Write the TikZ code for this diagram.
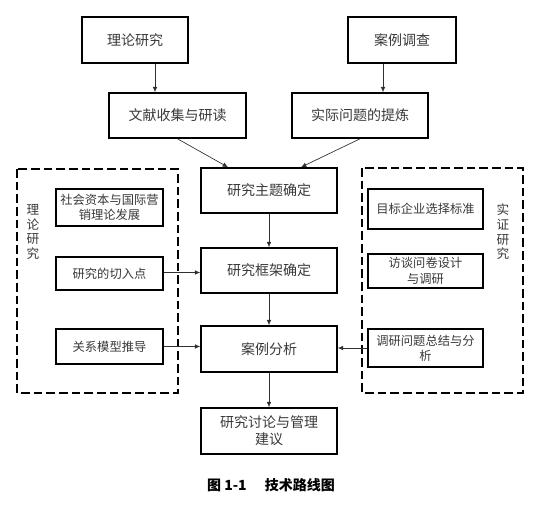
\documentclass[tikz,border=0pt]{standalone}
\usepackage{fontspec}
\newfontfamily\cjk{Noto Sans CJK SC}
\usetikzlibrary{arrows.meta,calc}
\definecolor{txt}{HTML}{383838}
\definecolor{ln}{HTML}{303030}
\tikzset{
  px/.style={x=0.75pt,y=-0.75pt},
  bigbox/.style={draw=black,line width=1.2pt,rectangle,align=center,inner sep=1pt,
     font=\cjk\fontsize{10.5pt}{13pt}\selectfont,text=txt},
  smallbox/.style={draw=black,line width=1.1pt,rectangle,align=center,inner sep=1pt,
     font=\cjk\fontsize{9.2pt}{11.5pt}\selectfont,text=txt},
  dashbox/.style={draw=black,line width=1.1pt,dash pattern=on 6.5pt off 3pt},
  sidelabel/.style={align=center,font=\cjk\fontsize{9.5pt}{11pt}\selectfont,text=txt},
  arr/.style={draw=ln,line width=0.5pt,-{Latex[length=4pt,width=3.5pt]}},
}
\begin{document}
\begin{tikzpicture}[px]
\useasboundingbox (0,0) rectangle (538,507);
% top row
\node[bigbox,minimum width=106*0.75pt,minimum height=46*0.75pt] (t1) at (135,40) {理论研究};
\node[bigbox,minimum width=108*0.75pt,minimum height=46*0.75pt] (t2) at (402,40) {案例调查};
\node[bigbox,minimum width=137*0.75pt,minimum height=45*0.75pt] (m1) at (177.5,115.5) {文献收集与研读};
\node[bigbox,minimum width=136*0.75pt,minimum height=45*0.75pt] (m2) at (360,115.5) {实际问题的提炼};
% centre column
\node[bigbox,minimum width=136*0.75pt,minimum height=45*0.75pt] (c1) at (269,190.5) {研究主题确定};
\node[bigbox,minimum width=136*0.75pt,minimum height=45*0.75pt] (c2) at (269,270.5) {研究框架确定};
\node[bigbox,minimum width=136*0.75pt,minimum height=46*0.75pt] (c3) at (269,349) {案例分析};
\node[bigbox,minimum width=136*0.75pt,minimum height=46*0.75pt] (c4) at (269,431) {研究讨论与管理\\建议};
% left dashed group
\draw[dashbox] (17,169) rectangle (178,393);
\node[sidelabel] (ll) at (33,232) {理\\论\\研\\究};
\node[smallbox,minimum width=107*0.75pt,minimum height=37*0.75pt] (l1) at (109.5,207.5) {社会资本与国际营\\销理论发展};
\node[smallbox,minimum width=107*0.75pt,minimum height=33*0.75pt] (l2) at (109.5,273.5) {研究的切入点};
\node[smallbox,minimum width=107*0.75pt,minimum height=35*0.75pt] (l3) at (109.5,346.5) {关系模型推导};
% right dashed group
\draw[dashbox] (362,168) rectangle (523,393);
\node[sidelabel] (rl) at (503,232) {实\\证\\研\\究};
\node[smallbox,minimum width=115*0.75pt,minimum height=40*0.75pt] (r1) at (425.5,209) {目标企业选择标准};
\node[smallbox,minimum width=115*0.75pt,minimum height=34*0.75pt] (r2) at (425.5,271) {访谈问卷设计\\与调研};
\node[smallbox,minimum width=115*0.75pt,minimum height=38*0.75pt] (r3) at (425.5,348) {调研问题总结与分\\析};
% caption
\node[font=\cjk\bfseries\fontsize{10.5pt}{12pt}\selectfont] (cap) at (271,485) {图 1-1\hspace{1.3em}技术路线图};
% connectors
\draw[arr] ([xshift=15pt]t1.south) -- ([xshift=15pt]t1.south |- m1.north);
\draw[arr] ([xshift=-14.25pt]t2.south) -- ([xshift=-14.25pt]t2.south |- m2.north);
\draw[arr] (m1.south) -- ([xshift=-30.75pt]c1.north);
\draw[arr] (m2.south) -- ([xshift=24pt]c1.north);
\draw[arr] (c1.south) -- (c2.north);
\draw[arr] (c2.south) -- (c3.north);
\draw[arr] (c3.south) -- (c4.north);
\draw[arr] ([yshift=0.75pt]l2.east) -- ([yshift=0.75pt]l2.east -| c2.west);
\draw[arr] (l3.east) -- (l3.east -| c3.west);
\draw[arr] (r3.west) -- (r3.west -| c3.east);
\end{tikzpicture}
\end{document}
